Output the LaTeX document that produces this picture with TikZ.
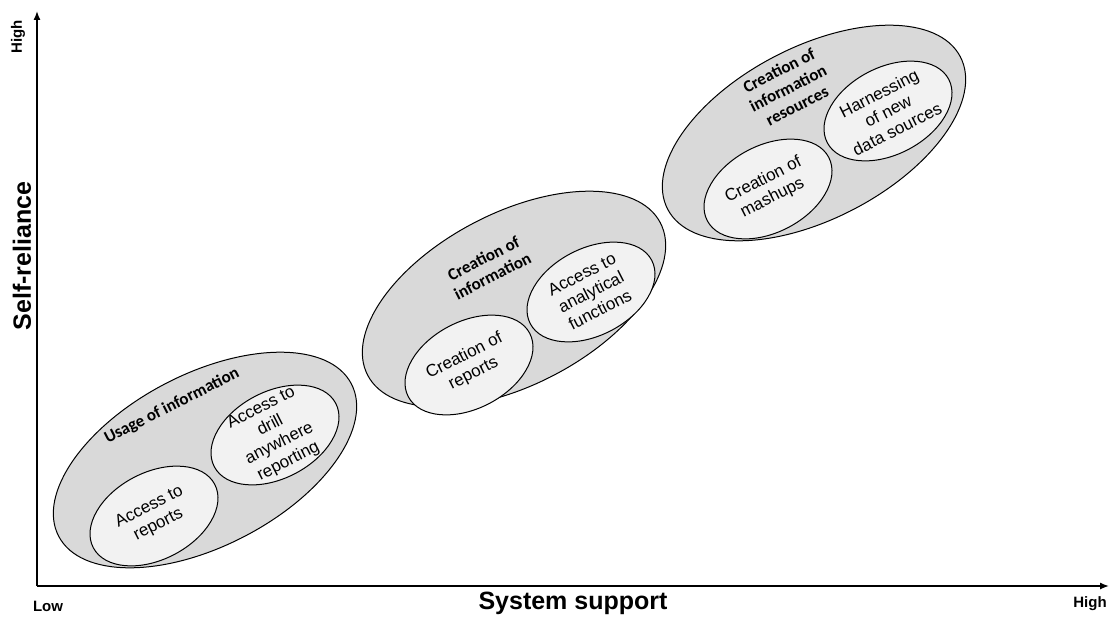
\documentclass[tikz,border=0pt]{standalone}
\usepackage{fontspec}
\setmainfont{Liberation Sans}
\newfontfamily\calibri{Carlito}
\usetikzlibrary{shapes.geometric,arrows.meta}

\tikzset{
  axisline/.style={line width=1.4pt,-{Latex[length=9pt,width=7pt]}},
  axislabel/.style={font=\bfseries\fontsize{25}{30}\selectfont,inner sep=0pt},
  endlabel/.style={font=\bfseries\fontsize{15}{18}\selectfont,inner sep=0pt},
  stage/.style={ellipse,draw=black,line width=1pt,fill=black!15,
    minimum width=330pt,minimum height=172pt,inner sep=0pt,rotate=27.5},
  activity/.style={ellipse,draw=black,line width=1pt,fill=black!5,
    minimum width=137pt,minimum height=87pt,inner sep=0pt,rotate=27.5},
  stagetext/.style={font=\calibri\bfseries\fontsize{17}{20}\selectfont,
    align=center,inner sep=0pt,rotate=27},
  activitytext/.style={font=\fontsize{17}{20}\selectfont,
    align=center,inner sep=0pt,rotate=27},
}

\begin{document}
\begin{tikzpicture}[x=1pt,y=-1pt]
\useasboundingbox (0,0) rectangle (1110,618);

% axes
\coordinate (O) at (37,586);
\coordinate (ytip) at (37,11);
\coordinate (xtip) at (1109,586);
\draw[axisline] (O) -- (ytip);
\draw[axisline] (O) -- (xtip);

\node[endlabel,rotate=90] (yhigh) at (18,37) {High};
\node[axislabel,rotate=90] (ylab) at (22,256) {Self-reliance};
\node[endlabel] (xlow) at (48,606) {Low};
\node[axislabel] (xlab) at (573,603) {System support};
\node[endlabel] (xhigh) at (1090,604) {High};

% stage 1
\node[stage] (s1) at (205,460) {};
\node[activity] (a1) at (154,516) {};
\node[activity] (a2) at (275,435) {};
\node[stagetext] (t1) at (172,406) {Usage of information};
\node[activitytext] at (a1) {Access to\\reports};
\node[activitytext] at (a2) {Access to\\drill\\anywhere\\reporting};

% stage 2
\node[stage] (s2) at (514,299) {};
\node[activity] (b1) at (469,365) {};
\node[activity] (b2) at (591,292) {};
\node[stagetext] (t2) at (488,267) {Creation of\\information};
\node[activitytext] at (b1) {Creation of\\reports};
\node[activitytext] at (b2) {Access to\\analytical\\functions};

% stage 3
\node[stage] (s3) at (814,133) {};
\node[activity] (c1) at (768,189) {};
\node[activity] (c2) at (888,111) {};
\node[stagetext] (t3) at (788,88) {Creation of\\information\\resources};
\node[activitytext] at (c1) {Creation of\\mashups};
\node[activitytext] at (c2) {Harnessing\\of new\\data sources};
\end{tikzpicture}
\end{document}
